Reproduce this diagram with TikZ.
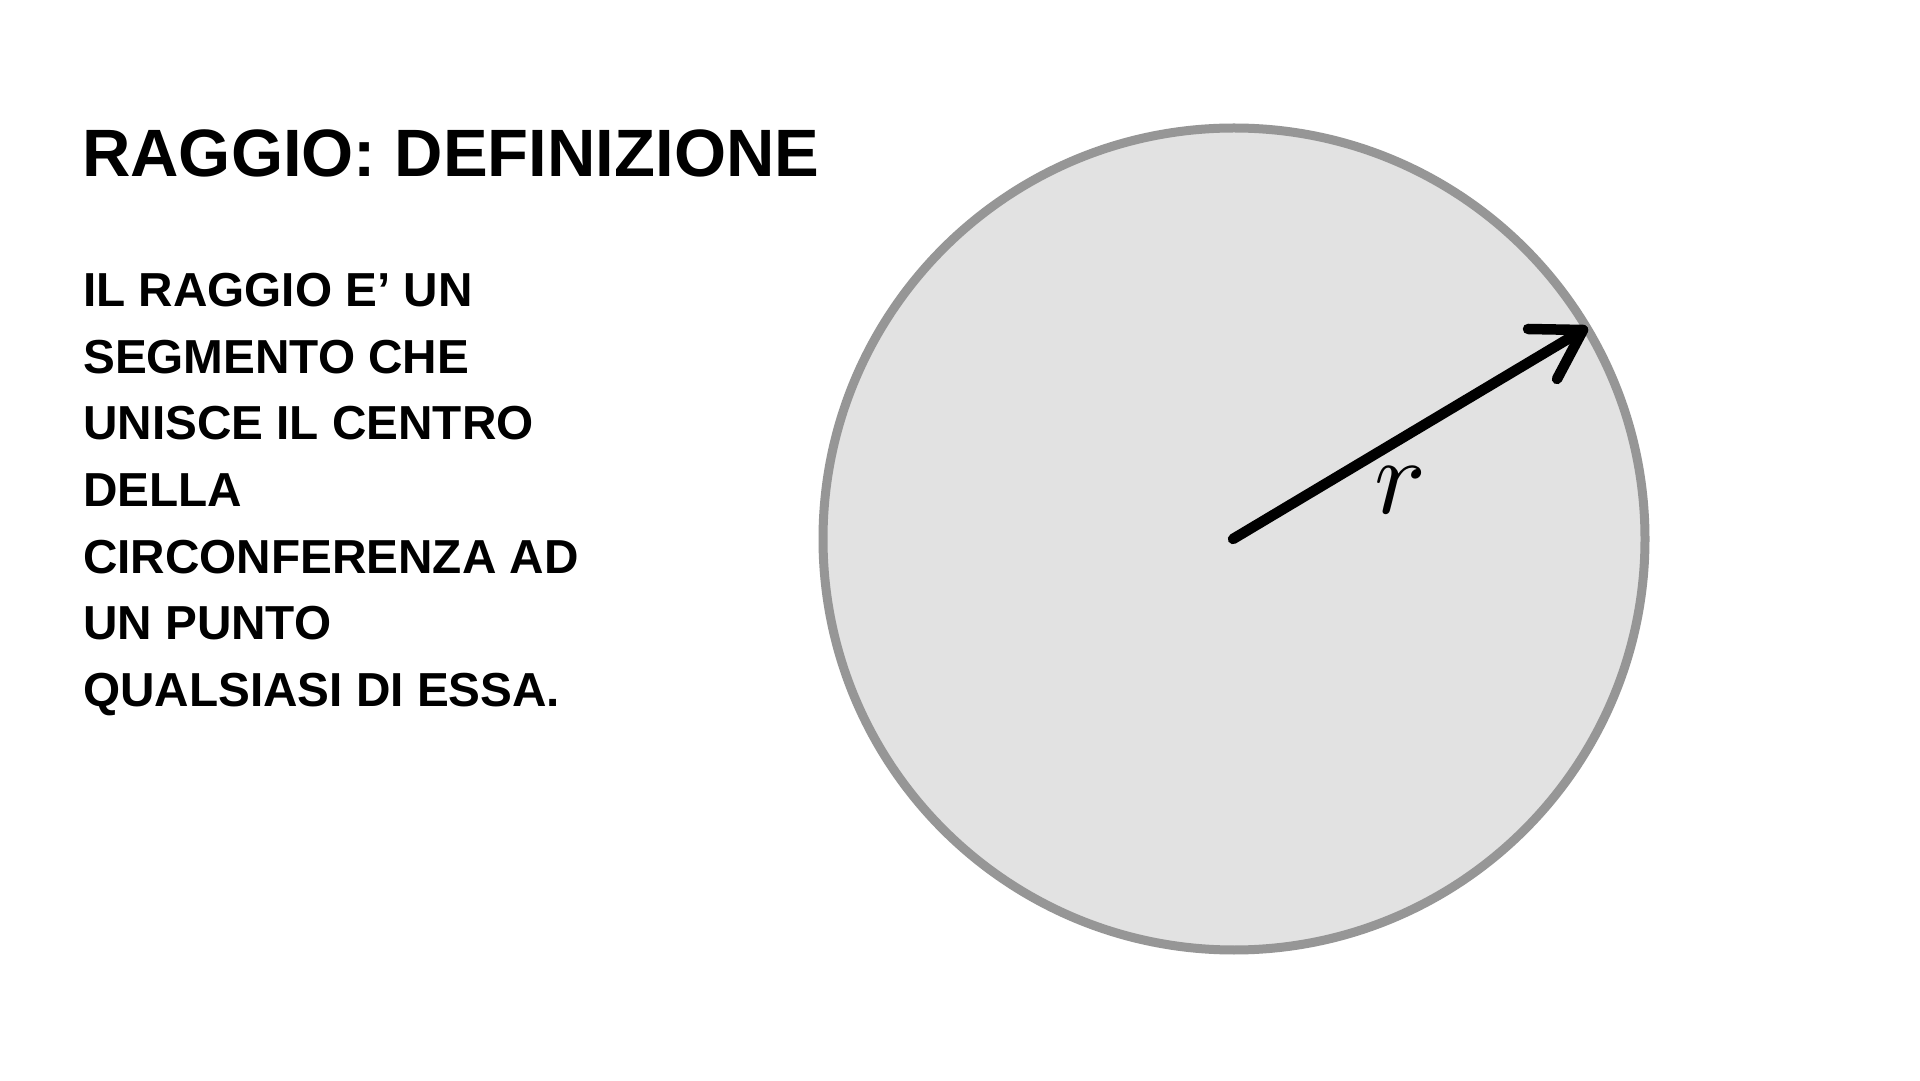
\documentclass[tikz,border=0pt]{standalone}
\usepackage{fontspec}
\setmainfont{Liberation Sans}
\definecolor{discfill}{HTML}{E2E2E2}
\definecolor{discline}{HTML}{969696}
\tikzset{
  titletext/.style={anchor=base west, inner sep=0pt, font=\bfseries\fontsize{67}{80}\selectfont},
  bodytext/.style={anchor=base west, inner sep=0pt, font=\bfseries\fontsize{47.7}{66}\selectfont},
  disc/.style={circle, draw=discline, fill=discfill, line width=9pt, minimum size=822pt, inner sep=0pt},
  radius line/.style={line width=10.5pt, line cap=round, line join=round, black},
  rlabel/.style={inner sep=0pt, scale=10.8}
}
\begin{document}
\begin{tikzpicture}[x=1pt,y=1pt]
\useasboundingbox[fill=white] (0,0) rectangle (1920,1080);
% disc
\node[disc] (circ) at (1234,541) {};
\coordinate (c) at (1233,541);
\coordinate (tip) at (1583,750);
\coordinate (b1) at (1528,751);
\coordinate (b2) at (1557,701);
\draw[radius line] (c) -- (tip);
\draw[radius line] (b1) -- (tip) -- (b2);
\node[rlabel] (r) at (1400,590) {$r$};
% title
\node[titletext] (title) at (82,903) {RAGGIO: DEFINIZIONE};
% body
\node[bodytext] (l1) at (83,773.3) {IL RAGGIO E’ UN};
\node[bodytext] (l2) at (83,706.7) {SEGMENTO CHE};
\node[bodytext] (l3) at (83,640) {UNISCE IL CENTRO};
\node[bodytext] (l4) at (83,573.3) {DELLA};
\node[bodytext] (l5) at (83,506.7) {CIRCONFERENZA AD};
\node[bodytext] (l6) at (83,440) {UN PUNTO};
\node[bodytext] (l7) at (83,373.3) {QUALSIASI DI ESSA.};
\end{tikzpicture}
\end{document}
